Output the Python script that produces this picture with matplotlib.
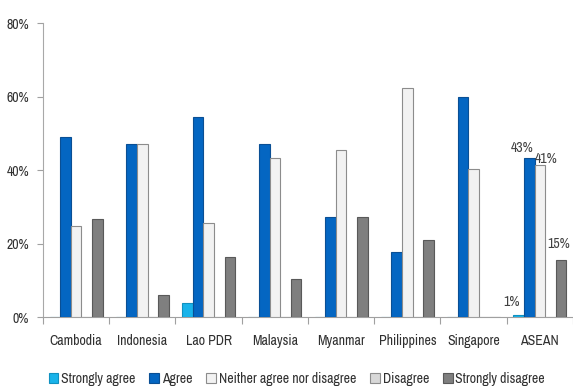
import matplotlib
matplotlib.use("Agg")
import matplotlib.pyplot as plt
import numpy as np
from matplotlib.ticker import FuncFormatter, FixedLocator

plt.rcParams['font.family'] = ['Archivo Narrow', 'Liberation Sans', 'DejaVu Sans']

categories = ["Cambodia", "Indonesia", "Lao PDR", "Malaysia", "Myanmar",
              "Philippines", "Singapore", "ASEAN"]
series_names = ["Strongly agree", "Agree", "Neither agree nor disagree",
                "Disagree", "Strongly disagree"]
strongly_agree = [0, 0, 3.9, 0, 0, 0, 0, 0.5]
agree = [49.0, 47.0, 54.5, 47.0, 27.3, 17.6, 60.0, 43.2]
neither = [24.8, 47.0, 25.5, 43.2, 45.4, 62.2, 40.2, 41.4]
disagree = [0, 0, 0, 0, 0, 0, 0, 0]
strongly_disagree = [26.7, 6.0, 16.4, 10.3, 27.3, 21.0, 0, 15.5]
asean_labels = ["1%", "43%", "41%", None, "15%"]

values = [strongly_agree, agree, neither, disagree, strongly_disagree]
faces = ["#19b3ea", "#0466c2", "#f2f2f2", "#d8d8d8", "#7f7f7f"]
edges = ["#1091c0", "#0a4f94", "#8c8c8c", "#8c8c8c", "#595959"]

fig = plt.figure(figsize=(5.73, 3.90), dpi=100)
ax = fig.add_axes([0.075, 0.187, 0.925, 0.754])

x = np.arange(len(categories))
w = 0.16
offsets = (np.arange(5) - 2) * w
for i in range(5):
    vals = np.array(values[i]) / 100.0
    ax.bar(x + offsets[i], vals, width=w, color=faces[i], edgecolor=edges[i],
           linewidth=0.8, label=series_names[i], zorder=3)

# ASEAN labels
ai = len(categories) - 1
lab_dx = [-0.105, -0.115, 0.1, 0, -0.04]
lab_dy = [0.018, 0.01, -0.002, 0, 0.024]
for i, lab in enumerate(asean_labels):
    if lab is None:
        continue
    v = values[i][ai] / 100.0
    ax.text(ai + offsets[i] + lab_dx[i], v + lab_dy[i], lab, ha='center', va='bottom',
            fontsize=10, color='#404040')

ax.set_xlim(-0.5, len(categories) - 0.5)
ax.set_ylim(0, 0.8)
ax.yaxis.set_major_locator(FixedLocator([0, 0.2, 0.4, 0.6, 0.8]))
ax.yaxis.set_major_formatter(FuncFormatter(lambda v, p: f"{int(round(v*100))}%"))
ax.set_xticks(x)
ax.set_xticklabels(categories)
ax.set_xticks(np.arange(len(categories) + 1) - 0.5, minor=True)
ax.tick_params(axis='x', which='major', length=0, pad=12, labelsize=10, labelcolor='#303030')
ax.tick_params(axis='x', which='minor', length=5, color='#a0a0a0', width=0.8)
ax.tick_params(axis='y', length=4, color='#a0a0a0', width=0.8, labelsize=10,
               labelcolor='#303030', pad=6)

for s in ['top', 'right']:
    ax.spines[s].set_visible(False)
ax.spines['left'].set_color('#a8a8a8')
ax.spines['bottom'].set_color('#a0a0a0')
ax.spines['left'].set_linewidth(0.8)
ax.spines['bottom'].set_linewidth(0.8)

fig.legend(loc='center', bbox_to_anchor=(0.518, 0.028), ncol=5, frameon=False,
           fontsize=10, handlelength=0.7, handleheight=0.7, handletextpad=0.2,
           columnspacing=1.0, labelcolor='#303030', borderaxespad=0, borderpad=0)

fig.savefig("out.png", dpi=100)
